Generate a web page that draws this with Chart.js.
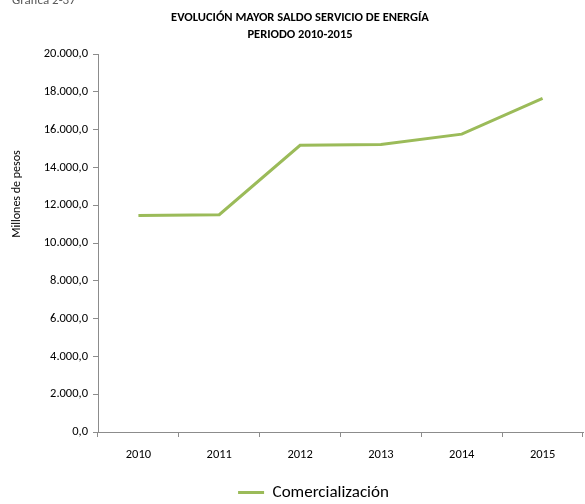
<!DOCTYPE html>
<html>
<head>
<meta charset="utf-8">
<script src="https://cdn.jsdelivr.net/npm/chart.js@4/dist/chart.umd.min.js"></script>
<style>
  html, body { margin: 0; padding: 0; background: #fff; }
  #wrap { width: 585px; height: 504px; position: relative; }
</style>
</head>
<body>
<div id="wrap"><canvas id="c" width="585" height="504"></canvas></div>
<script>
// Mayor saldo servicio de energía, millones de pesos
const years = ['2010', '2011', '2012', '2013', '2014', '2015'];
const comercializacion = [11450, 11500, 15170, 15210, 15760, 17650];
const seriesName = 'Comercialización';
const titleLines = ['EVOLUCIÓN MAYOR SALDO SERVICIO DE ENERGÍA', 'PERIODO 2010-2015'];
const yAxisTitle = 'Millones de pesos';
const figureLabel = 'Gráfica 2-37';

const FONT = "Carlito, Lato, 'Liberation Sans', sans-serif";
const GREEN = '#9BBB59';
const LEGEND_SHIFT = 22;

function fmt(v) {
  const parts = Number(v).toFixed(1).split('.');
  parts[0] = parts[0].replace(/\B(?=(\d{3})+(?!\d))/g, '.');
  return parts[0] + ',' + parts[1];
}

// Texts outside the plot area: figure label, two-line title, rotated axis title
const decorations = {
  id: 'decorations',
  afterInit(chart) {
    // nudge the legend to the right, under the plot
    const legend = chart.legend;
    if (legend) {
      const orig = legend.draw;
      legend.draw = function (...args) {
        const ctx = chart.ctx;
        ctx.save();
        ctx.translate(LEGEND_SHIFT, 0);
        orig.apply(this, args);
        ctx.restore();
      };
    }
  },
  afterDraw(chart) {
    const ctx = chart.ctx;
    ctx.save();
    ctx.fillStyle = '#595959';
    ctx.font = '13px ' + FONT;
    ctx.textAlign = 'left';
    ctx.textBaseline = 'alphabetic';
    ctx.fillText(figureLabel, 12, 4);

    ctx.fillStyle = '#000';
    ctx.font = 'bold 12.5px ' + FONT;
    ctx.textAlign = 'center';
    ctx.textBaseline = 'middle';
    ctx.fillText(titleLines[0], 300, 18);
    ctx.fillText(titleLines[1], 300, 35);

    ctx.font = '12px ' + FONT;
    ctx.translate(17, 194);
    ctx.rotate(-Math.PI / 2);
    ctx.fillText(yAxisTitle, 0, 0);
    ctx.restore();
  }
};

new Chart(document.getElementById('c'), {
  type: 'line',
  data: {
    labels: years,
    datasets: [{
      label: seriesName,
      data: comercializacion,
      borderColor: GREEN,
      backgroundColor: GREEN,
      borderWidth: 3,
      pointRadius: 0,
      pointHoverRadius: 0,
      tension: 0,
      fill: false
    }]
  },
  options: {
    responsive: false,
    animation: false,
    layout: { padding: { top: 54, left: 0, right: 2, bottom: -7 } },
    plugins: {
      title: { display: false },
      tooltip: { enabled: false },
      legend: {
        position: 'bottom',
        labels: {
          usePointStyle: true,
          pointStyle: 'line',
          pointStyleWidth: 26,
          color: '#000',
          padding: 4,
          font: { family: FONT, size: 17 }
        }
      }
    },
    scales: {
      x: {
        offset: true,
        afterFit(s) { s.height = 48; },
        grid: {
          offset: true,
          drawOnChartArea: false,
          drawTicks: true,
          tickLength: 5,
          color: '#8c8c8c'
        },
        border: { color: '#8c8c8c', width: 1 },
        ticks: { color: '#000', padding: 10, font: { family: FONT, size: 12.5 } }
      },
      y: {
        min: 0,
        max: 20000,
        afterFit(s) { s.width = 98; },
        grid: {
          drawOnChartArea: false,
          drawTicks: true,
          tickLength: 5,
          color: '#8c8c8c'
        },
        border: { color: '#8c8c8c', width: 1 },
        ticks: {
          stepSize: 2000,
          color: '#000',
          padding: 5,
          font: { family: FONT, size: 12.5 },
          callback: (v) => fmt(v)
        }
      }
    }
  },
  plugins: [decorations]
});
</script>
</body>
</html>
